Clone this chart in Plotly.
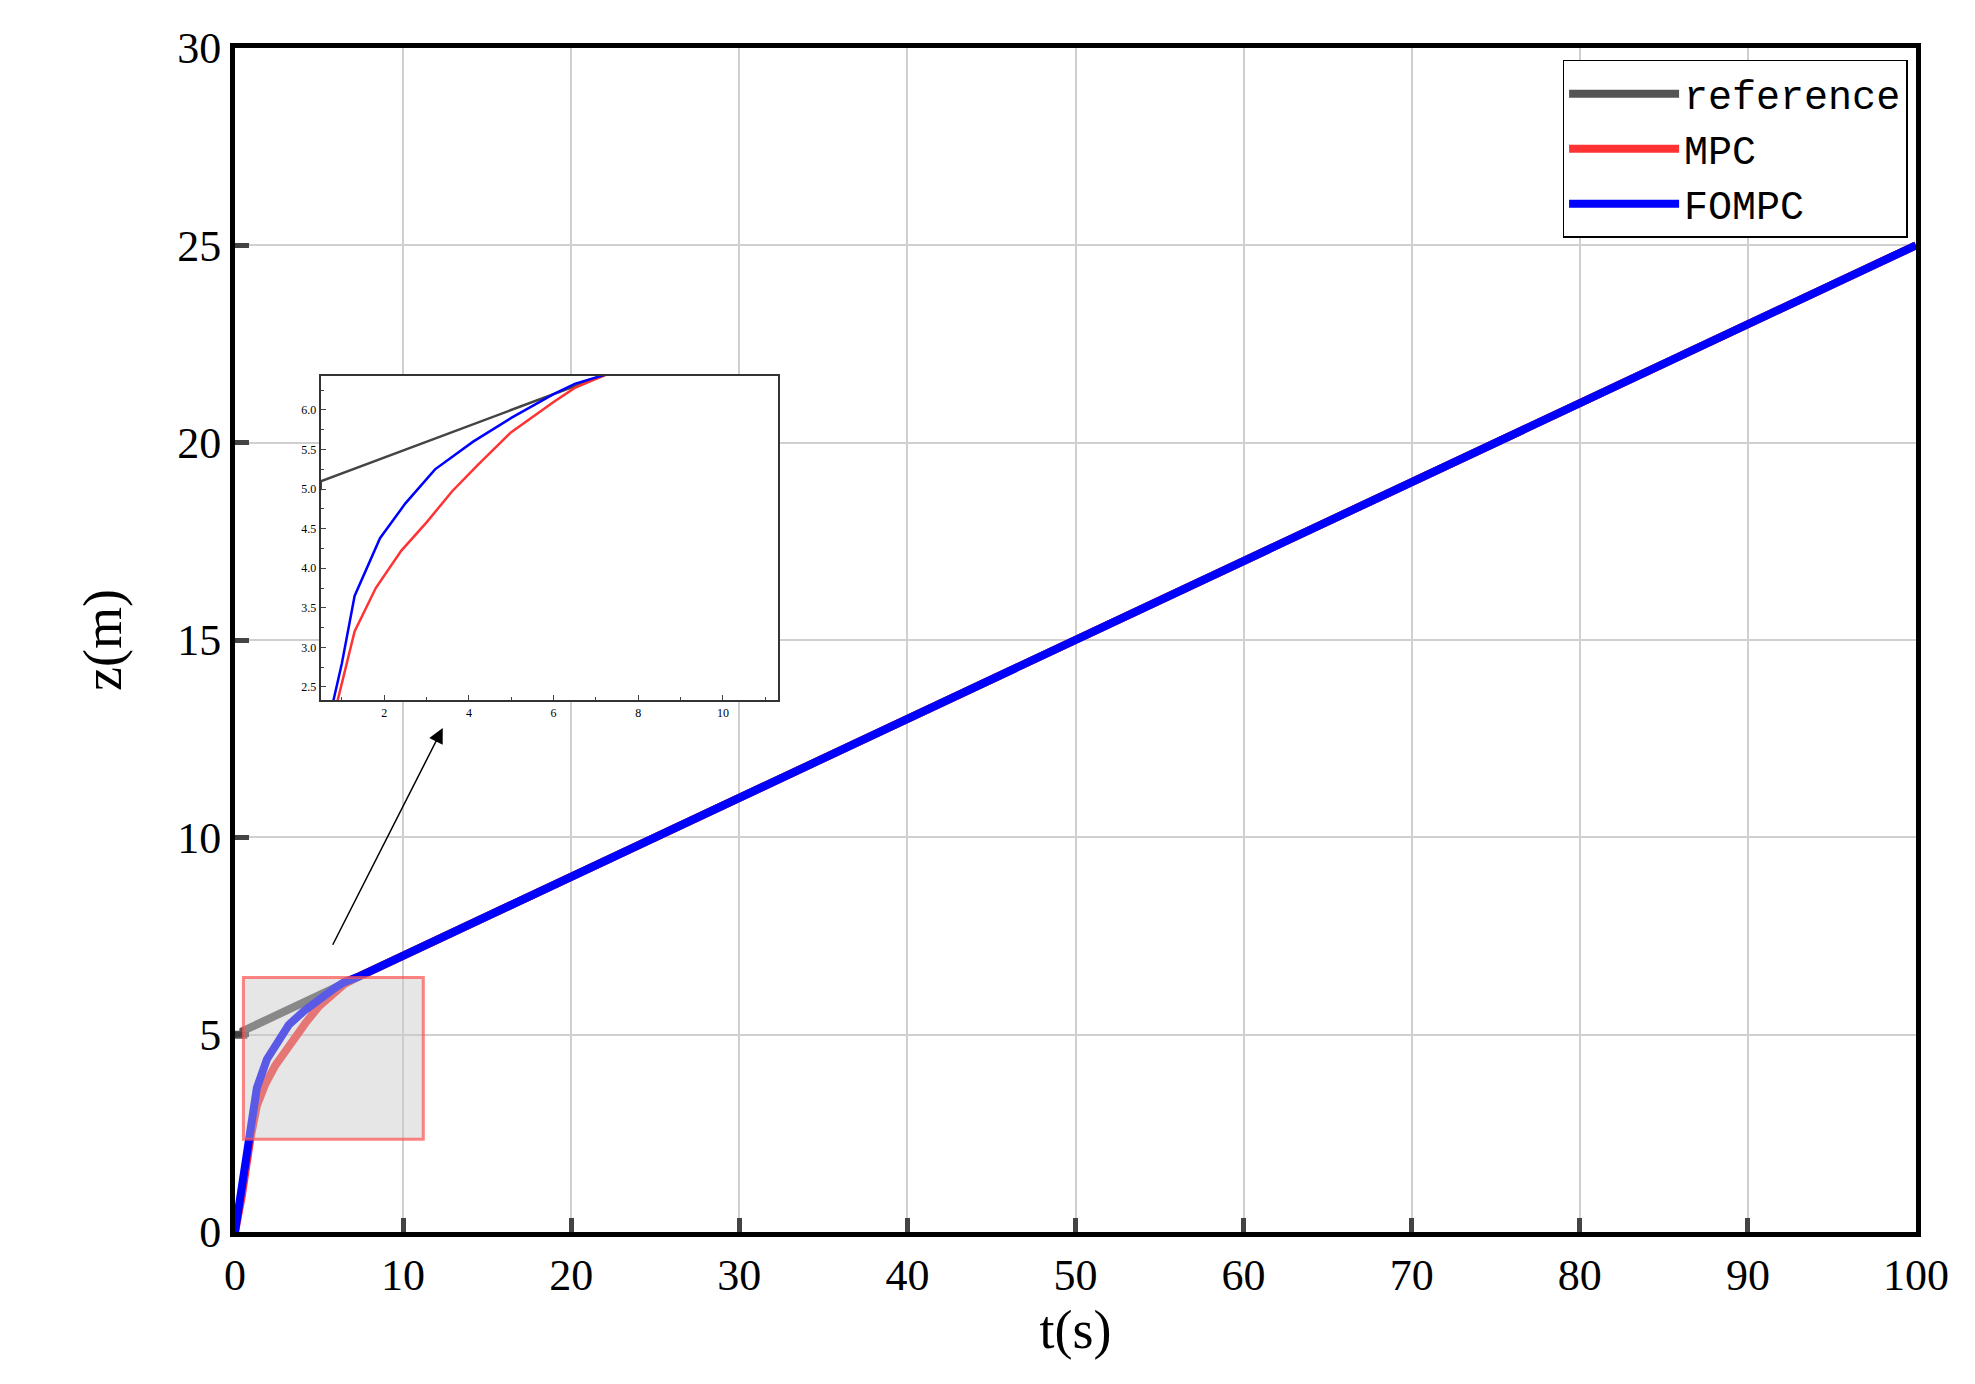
import plotly.graph_objects as go

ref_t = [0, 0.5, 0.5, 100]
ref_z = [5.0, 5.0, 5.1, 25.0]
fompc_t = [0, 0.3, 0.8, 1.0, 1.3, 1.9, 2.5, 3.2, 4.1, 5.0, 6.0, 6.5, 7.3, 100]
fompc_z = [0, 0.9, 2.33, 2.8, 3.65, 4.38, 4.82, 5.25, 5.6, 5.9, 6.2, 6.33, 6.46, 25.0]
mpc_t = [0, 0.4, 0.9, 1.3, 1.8, 2.4, 3.0, 3.6, 4.2, 5.0, 6.0, 6.5, 7.3, 100]
mpc_z = [0, 0.9, 2.33, 3.2, 3.75, 4.22, 4.58, 4.97, 5.3, 5.72, 6.1, 6.28, 6.46, 25.0]

fig = go.Figure()
for t, z, name, col, w in [(ref_t, ref_z, "reference", "#555555", 8),
                           (mpc_t, mpc_z, "MPC", "#ff3333", 8),
                           (fompc_t, fompc_z, "FOMPC", "#0000ff", 8)]:
    fig.add_trace(go.Scatter(x=t, y=z, mode="lines", name=name,
                             line=dict(color=col, width=w)))
for t, z, col in [(ref_t, ref_z, "#444444"), (mpc_t, mpc_z, "#ff3333"), (fompc_t, fompc_z, "#0000ff")]:
    fig.add_trace(go.Scatter(x=t, y=z, mode="lines", showlegend=False,
                             line=dict(color=col, width=2.5), xaxis="x2", yaxis="y2"))

font = "Liberation Serif, DejaVu Serif, serif"
fig.update_layout(
    width=1975, height=1384, paper_bgcolor="white", plot_bgcolor="white",
    margin=dict(l=227, r=67, t=40, b=160),
    font=dict(family=font, color="black"),
    xaxis=dict(range=[0, 100], dtick=10, ticks="inside", ticklen=14, tickwidth=5,
               showline=True, mirror=True, linewidth=5, linecolor="black",
               showgrid=True, gridcolor="#d0d0d0", gridwidth=1.5, zeroline=False,
               tickfont=dict(size=44, family=font),
               title=dict(text="t(s)", font=dict(size=54, family=font), standoff=8)),
    yaxis=dict(range=[0, 30], dtick=5, ticks="inside", ticklen=14, tickwidth=5,
               showline=True, mirror=True, linewidth=5, linecolor="black",
               showgrid=True, gridcolor="#d0d0d0", gridwidth=1.5, zeroline=False,
               tickfont=dict(size=44, family=font),
               title=dict(text="z(m)", font=dict(size=54, family=font), standoff=40)),
    xaxis2=dict(domain=[0.051, 0.323], anchor="y2", range=[0.5, 11.3], dtick=2,
                ticks="inside", ticklen=5, showline=True, mirror=True, linewidth=2,
                linecolor="#333333", showgrid=False, zeroline=False,
                minor=dict(ticks="inside", ticklen=3, dtick=1),
                tickfont=dict(size=12, family=font)),
    yaxis2=dict(domain=[0.449, 0.723], anchor="x2", range=[2.33, 6.43], dtick=0.5,
                tickformat=".1f", ticks="inside", ticklen=5, showline=True, mirror=True,
                linewidth=2, linecolor="#333333", showgrid=False, zeroline=False,
                minor=dict(ticks="inside", ticklen=3, dtick=0.25),
                tickfont=dict(size=12, family=font)),
    legend=dict(x=0.995, y=0.99, xanchor="right", yanchor="top",
                bgcolor="white", bordercolor="black", borderwidth=1.5,
                font=dict(size=40, family="Liberation Mono, monospace"),
                itemwidth=110, tracegroupgap=0),
    shapes=[dict(type="rect", xref="x", yref="y", x0=0.5, x1=11.2, y0=2.35, y1=6.45,
                 fillcolor="rgba(200,200,200,0.45)", line=dict(color="rgba(255,80,80,0.7)", width=3),
                 layer="above")],
    annotations=[dict(x=12.36, y=12.77, ax=5.77, ay=7.24, xref="x", yref="y",
                      axref="x", ayref="y", showarrow=True, arrowhead=2, arrowsize=2,
                      arrowwidth=1.5, arrowcolor="black", text="")],
)
fig.write_html("out.html")
